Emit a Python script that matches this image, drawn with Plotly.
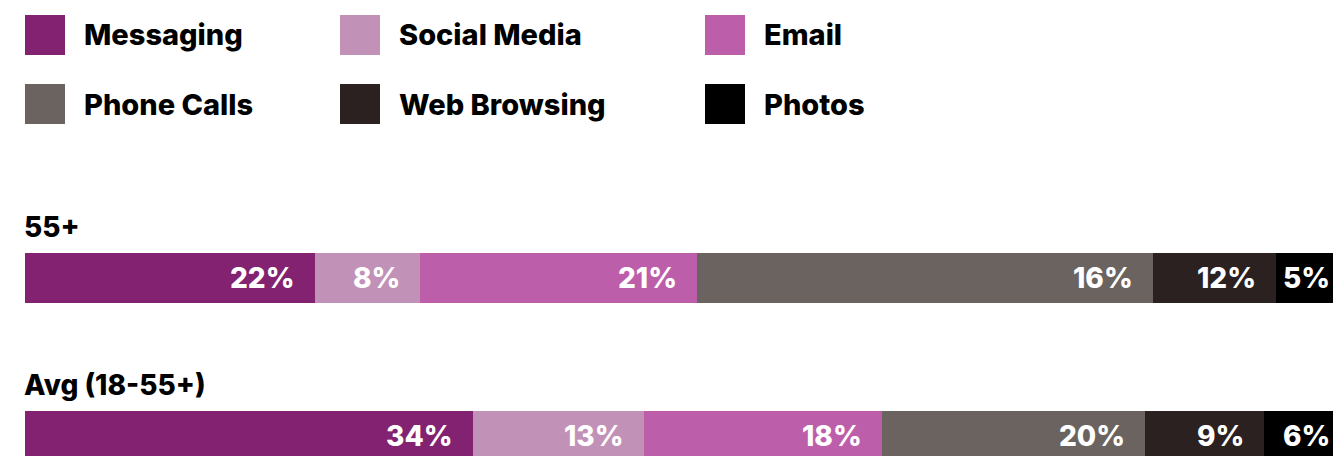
import plotly.graph_objects as go

# ---- data ----
groups = ["55+", "Avg (18-55+)"]
categories = ["Messaging", "Social Media", "Email", "Phone Calls", "Web Browsing", "Photos"]
colors = ["#822270", "#C291B7", "#BD5EAA", "#6B6360", "#2A2120", "#000000"]
# bar lengths (share of bar)
values_55 = [22, 8, 21, 34.6, 9.3, 5.1]
values_avg = [34, 13, 18, 20, 9, 6]
# printed labels
labels_55 = ["22%", "8%", "21%", "16%", "12%", "5%"]
labels_avg = ["34%", "13%", "18%", "20%", "9%", "6%"]

W, H = 1333, 456
ML = 25
FONT = "Inter"
px_per_unit = 13.18
XMAX = (W - ML) / px_per_unit

fig = go.Figure()
for i, cat in enumerate(categories):
    fig.add_trace(go.Bar(
        y=groups, x=[values_55[i], values_avg[i]], name=cat, orientation="h",
        marker=dict(color=colors[i], line=dict(width=0)),
        width=0.316, showlegend=False, hoverinfo="skip",
    ))

annotations = []
# value labels at the right end of each segment
for g, vals, labs in [(groups[0], values_55, labels_55), (groups[1], values_avg, labels_avg)]:
    cum = 0
    for v, lab in zip(vals, labs):
        cum += v
        clamped = cum > XMAX
        annotations.append(dict(
            x=min(cum, XMAX), y=g, xref="x", yref="y", text=lab, showarrow=False,
            xanchor="right", yanchor="middle", xshift=-1 if clamped else -18,
            font=dict(family=FONT, size=28, color="white", weight=800),
        ))
# group titles above each bar
for g in groups:
    annotations.append(dict(
        x=0, y=g, xref="x", yref="y", text=g, showarrow=False,
        xanchor="left", yanchor="middle", yshift=51, xshift=-3,
        font=dict(family=FONT, size=28, color="black", weight=800),
    ))

# custom legend: 3 columns x 2 rows
def px_to_paper_x(p):
    return (p - ML) / (W - ML)

shapes = []
col_x = [25, 340, 705]
row_y = [15, 84]
sq = 40
for i, cat in enumerate(categories):
    cx = col_x[i % 3]
    ry = row_y[i // 3]
    shapes.append(dict(
        type="rect", xref="paper", yref="paper",
        x0=px_to_paper_x(cx), x1=px_to_paper_x(cx + sq), y0=1 - (ry + sq) / H, y1=1 - ry / H,
        fillcolor=colors[i], line=dict(width=0),
    ))
    annotations.append(dict(
        x=px_to_paper_x(cx + 57), y=1 - (ry + sq / 2) / H, xref="paper", yref="paper",
        text=cat, showarrow=False, xanchor="left", yanchor="middle",
        font=dict(family=FONT, size=29, color="black", weight=800),
    ))

fig.update_layout(
    width=W, height=H, barmode="stack",
    margin=dict(l=ML, r=0, t=0, b=0),
    paper_bgcolor="white", plot_bgcolor="white",
    xaxis=dict(range=[0, XMAX], visible=False, fixedrange=True),
    yaxis=dict(range=[(H - 278) / 158, -278 / 158], visible=False, fixedrange=True,
               categoryorder="array", categoryarray=groups),
    shapes=shapes, annotations=annotations, bargap=0,
)
fig.write_html("out.html")
